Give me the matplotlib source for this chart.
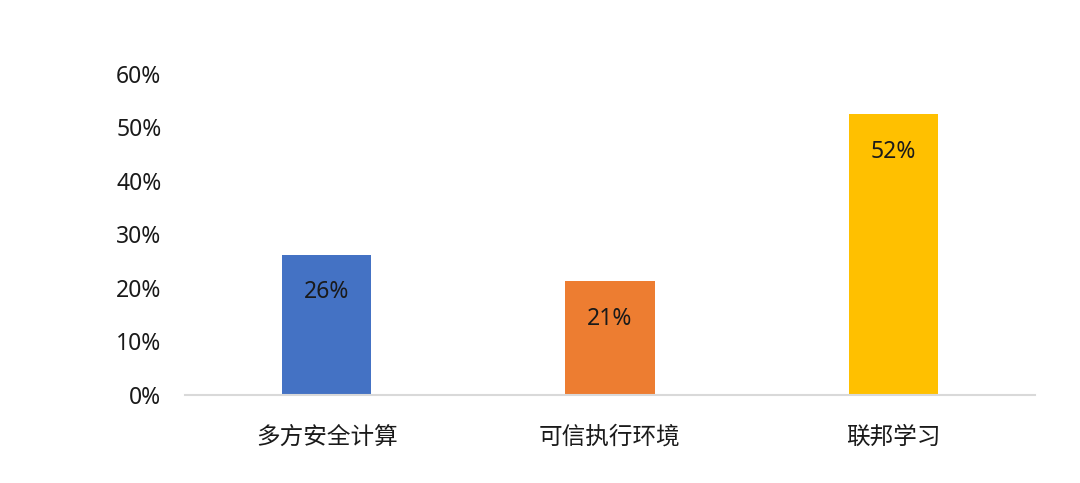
import matplotlib
matplotlib.use("Agg")
import matplotlib.pyplot as plt

plt.rcParams["font.family"] = ["Noto Sans CJK SC", "DejaVu Sans"]

# Data
categories = ["多方安全计算", "可信执行环境", "联邦学习"]
shares = [26.2, 21.3, 52.5]
labels = ["26%", "21%", "52%"]
colors = ["#4472C4", "#ED7D31", "#FFC000"]
yticks = [0, 10, 20, 30, 40, 50, 60]

num_font = ["Noto Sans", "DejaVu Sans"]

fig = plt.figure(figsize=(10.8, 4.83), dpi=100)
ax = fig.add_axes([185 / 1080, 88 / 483, 850 / 1080, 321 / 483])

x = range(len(categories))
bars = ax.bar(x, shares, width=0.315, color=colors, zorder=2)

for b, lab in zip(bars, labels):
    ax.annotate(lab, (b.get_x() + b.get_width() / 2, b.get_height()),
                xytext=(0, -27), textcoords="offset points",
                ha="center", va="center", fontsize=16.5, color="#1a1a1a",
                family=num_font)

ax.set_xlim(-0.5, 2.5)
ax.set_ylim(0, 60)
ax.set_yticks(yticks)
ax.set_yticklabels([f"{v}%" for v in yticks], fontsize=16.5, color="#1a1a1a",
                   family=num_font)
ax.set_xticks(list(x))
ax.set_xticklabels(categories, fontsize=17, color="#1a1a1a")
ax.tick_params(axis="y", length=0, pad=17)
ax.tick_params(axis="x", length=0, pad=22)

for side in ["top", "right", "left"]:
    ax.spines[side].set_visible(False)
ax.spines["bottom"].set_color("#D9D9D9")
ax.spines["bottom"].set_linewidth(1.5)

fig.savefig("out.png", dpi=100)
